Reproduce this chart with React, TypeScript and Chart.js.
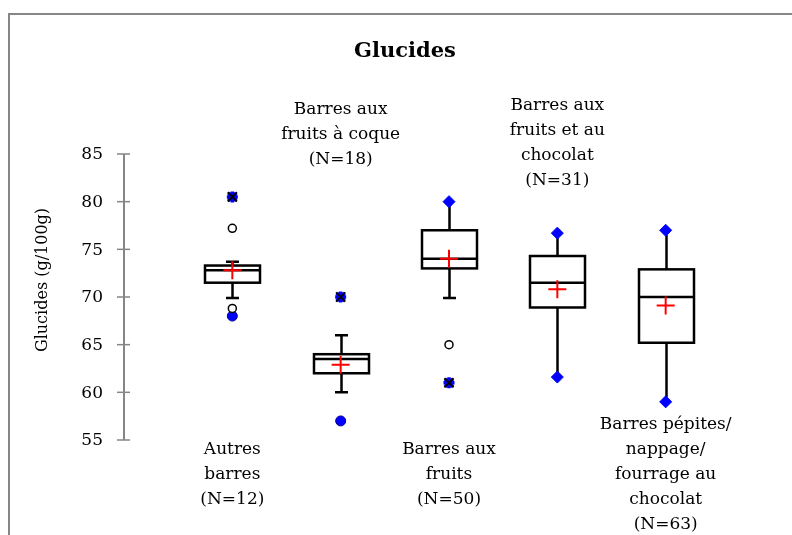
import React, { useEffect, useRef } from "react";
import { Chart, registerables } from "chart.js";
Chart.register(...registerables);

// ---- data ----
const categoryLines: string[][] = [
  ["Autres", "barres", "(N=12)"],
  ["Barres aux", "fruits à coque", "(N=18)"],
  ["Barres aux", "fruits", "(N=50)"],
  ["Barres aux", "fruits et au", "chocolat", "(N=31)"],
  ["Barres pépites/", "nappage/", "fourrage au", "chocolat", "(N=63)"],
];
const positions = [1, 2, 3, 4, 5];
const whiskerLow = [69.9, 60.0, 69.9, 61.6, 59.0];
const q1 = [71.5, 62.0, 73.0, 68.9, 65.2];
const median = [72.8, 63.5, 74.0, 71.5, 70.0];
const q3 = [73.3, 64.0, 77.0, 74.3, 72.9];
const whiskerHigh = [73.7, 66.0, 80.0, 76.7, 77.0];
const means = [72.8, 62.9, 74.0, 70.8, 69.1];
const capLow = [true, true, true, false, false];
const capHigh = [true, true, false, false, false];

const extremeCat = [1, 2, 3];
const extremeVal = [80.5, 70.0, 61.0];
const outlierCat = [1, 1, 3];
const outlierVal = [77.2, 68.8, 65.0];
const minDotCat = [1, 2];
const minDotVal = [68.0, 57.0];
const endCat = [3, 4, 4, 5, 5];
const endVal = [80.0, 76.7, 61.6, 77.0, 59.0];

const yTicks = [55, 60, 65, 70, 75, 80, 85];
const chartTitle = "Glucides";
const yTitle = "Glucides (g/100g)";

// ---- layout (pixels) ----
const labelSide = ["below", "above", "below", "above", "below"];
const labelAnchor = [450, 160, 450, 181, 425];
const LINE_H = 25;
const FONT = "'DejaVu Serif', serif";

const pts = (c: number[], v: number[]) => c.map((x, i) => ({ x, y: v[i] }));

const boxPlugin = {
  id: "boxes",
  beforeDatasetsDraw(chart: any) {
    const ctx = chart.ctx;
    const xs = chart.scales.x;
    const ys = chart.scales.y;
    ctx.save();
    // frame
    ctx.strokeStyle = "#868686";
    ctx.lineWidth = 2;
    ctx.strokeRect(9, 14, 900, 700);

    // y axis
    const ax = Math.round(xs.getPixelForValue(0));
    ctx.strokeStyle = "#868686";
    ctx.lineWidth = 2;
    ctx.beginPath();
    ctx.moveTo(ax, ys.getPixelForValue(yTicks[0]));
    ctx.lineTo(ax, ys.getPixelForValue(yTicks[yTicks.length - 1]));
    ctx.stroke();
    ctx.lineWidth = 1.5;
    ctx.fillStyle = "#000";
    ctx.font = `17px ${FONT}`;
    ctx.textAlign = "right";
    ctx.textBaseline = "middle";
    yTicks.forEach((t) => {
      const y = ys.getPixelForValue(t);
      ctx.beginPath();
      ctx.moveTo(ax - 7, y);
      ctx.lineTo(ax + 6, y);
      ctx.stroke();
      ctx.fillText(String(t), ax - 21, y + 1);
    });

    // y title
    ctx.save();
    ctx.translate(43, 280);
    ctx.rotate(-Math.PI / 2);
    ctx.textAlign = "center";
    ctx.font = `16px ${FONT}`;
    ctx.fillText(yTitle, 0, 0);
    ctx.restore();

    // title
    ctx.textAlign = "center";
    ctx.font = `bold 21px ${FONT}`;
    ctx.fillText(chartTitle, 405, 52);

    // boxes
    const half = 27.5;
    const cap = 6.5;
    ctx.strokeStyle = "#000";
    ctx.lineWidth = 2.5;
    positions.forEach((p, i) => {
      const x = Math.round(xs.getPixelForValue(p)) + 0.5;
      const yLo = ys.getPixelForValue(whiskerLow[i]);
      const yQ1 = ys.getPixelForValue(q1[i]);
      const yMed = ys.getPixelForValue(median[i]);
      const yQ3 = ys.getPixelForValue(q3[i]);
      const yHi = ys.getPixelForValue(whiskerHigh[i]);
      ctx.beginPath();
      ctx.moveTo(x, yLo);
      ctx.lineTo(x, yQ1);
      ctx.moveTo(x, yQ3);
      ctx.lineTo(x, yHi);
      if (capLow[i]) {
        ctx.moveTo(x - cap, yLo);
        ctx.lineTo(x + cap, yLo);
      }
      if (capHigh[i]) {
        ctx.moveTo(x - cap, yHi);
        ctx.lineTo(x + cap, yHi);
      }
      ctx.stroke();
      ctx.fillStyle = "#fff";
      ctx.fillRect(x - half, yQ3, 2 * half, yQ1 - yQ3);
      ctx.strokeRect(x - half, yQ3, 2 * half, yQ1 - yQ3);
      ctx.beginPath();
      ctx.moveTo(x - half, yMed);
      ctx.lineTo(x + half, yMed);
      ctx.stroke();
    });

    // category labels
    ctx.fillStyle = "#000";
    ctx.font = `17px ${FONT}`;
    ctx.textAlign = "center";
    ctx.textBaseline = "middle";
    categoryLines.forEach((lines, i) => {
      const x = xs.getPixelForValue(positions[i]);
      const n = lines.length;
      lines.forEach((ln, j) => {
        const y =
          labelSide[i] === "below"
            ? labelAnchor[i] + j * LINE_H
            : labelAnchor[i] - (n - 1 - j) * LINE_H;
        ctx.fillText(ln, x, y);
      });
    });
    ctx.restore();
  },
};

export default function App() {
  const ref = useRef<HTMLCanvasElement>(null);
  useEffect(() => {
    if (!ref.current) return;
    const chart = new Chart(ref.current, {
      type: "scatter",
      data: {
        datasets: [
          {
            label: "outliers",
            data: pts(outlierCat, outlierVal),
            pointStyle: "circle",
            pointRadius: 4,
            backgroundColor: "#fff",
            borderColor: "#000",
            borderWidth: 1.5,
          },
          {
            label: "min/max dots",
            data: pts(minDotCat, minDotVal),
            pointStyle: "circle",
            pointRadius: 5,
            backgroundColor: "#0000ff",
            borderColor: "#00008b",
            borderWidth: 1,
          },
          {
            label: "extreme x",
            data: pts(extremeCat, extremeVal),
            pointStyle: "crossRot",
            pointRadius: 6.5,
            borderColor: "#000",
            borderWidth: 2,
          },
          {
            label: "extreme star",
            data: pts(extremeCat, extremeVal),
            pointStyle: "star",
            pointRadius: 5.5,
            borderColor: "#0000ff",
            borderWidth: 3.5,
          },
          {
            label: "ends",
            data: pts(endCat, endVal),
            pointStyle: "rectRot",
            pointRadius: 6,
            backgroundColor: "#0000ff",
            borderColor: "#0000ff",
            borderWidth: 1,
          },
          {
            label: "means",
            data: pts(positions, means),
            pointStyle: "cross",
            pointRadius: 9,
            borderColor: "#ff0000",
            borderWidth: 2,
          },
        ] as any,
      },
      options: {
        animation: false,
        responsive: false,
        devicePixelRatio: 1,
        layout: { padding: { left: 124, right: 18, top: 154, bottom: 95 } },
        plugins: { legend: { display: false }, tooltip: { enabled: false }, title: { display: false } },
        scales: {
          x: { type: "linear", min: 0, max: 6, display: false },
          y: { type: "linear", min: 55, max: 85, display: false },
        },
        elements: { point: { hoverRadius: 0 } },
        events: [],
      } as any,
      plugins: [boxPlugin],
    });
    return () => chart.destroy();
  }, []);
  return (
    <div style={{ position: "absolute", left: 0, top: 0, width: 792, height: 535, background: "#fff" }}>
      <canvas ref={ref} width={792} height={535} style={{ display: "block" }} />
    </div>
  );
}
